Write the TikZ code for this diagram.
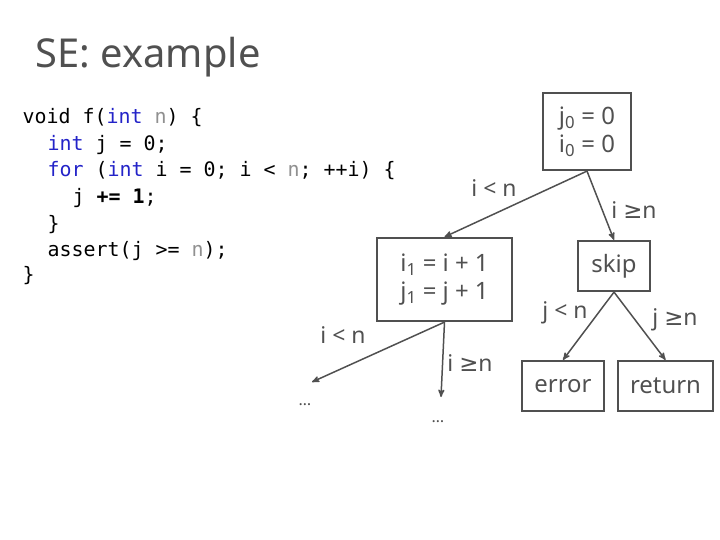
\documentclass[tikz,border=0pt]{standalone}
\usepackage{fontspec}
\setmainfont{Noto Sans}
\setmonofont{DejaVu Sans Mono}
\newfontfamily\symfont{DejaVu Sans}
\usetikzlibrary{arrows,positioning}
\definecolor{ink}{HTML}{505050}
\definecolor{kw}{HTML}{2323C8}
\definecolor{var}{HTML}{909090}
\newcommand{\geqsym}{{\symfont ≥}}

\begin{document}
\begin{tikzpicture}[x=1bp,y=-1bp,>=stealth',line width=1.5pt,color=ink]
\tikzstyle{block} = [draw, line width=2.2pt, shape=rectangle, align=center, inner sep=0pt, font=\fontsize{24}{28}\selectfont]
\tikzstyle{cond} = [font=\fontsize{23}{28}\selectfont]
\tikzstyle{code} = [anchor=west, inner sep=0pt, text=black, font=\ttfamily\fontsize{20}{24}\selectfont]
\useasboundingbox (0,0) rectangle (720,540);

% Title
\node[anchor=base west, inner sep=0pt, font=\fontsize{40}{46}\selectfont] (title) at (35,68) {SE: example};

% Source
\node[code] (line1) at (22,118) {void f(\textcolor{kw}{int} \textcolor{var}{n}) \{};
\node[code] (line2) at (47,145) {\textcolor{kw}{int} j = 0;};
\node[code] (line3) at (47,171) {\textcolor{kw}{for} (\textcolor{kw}{int} i = 0; i < \textcolor{var}{n}; ++i) \{};
\node[code] (line4) at (72,198) {j \textbf{+= 1};};
\node[code] (line5) at (47,225) {\}};
\node[code] (line6) at (47,251) {assert(j >= \textcolor{var}{n});};
\node[code] (line7) at (22,276) {\}};

% Tree
\node[block, minimum width=88bp, minimum height=77bp] (init) at (587,131.5) {j\textsubscript{0} = 0\\i\textsubscript{0} = 0};
\node[block, minimum width=135bp, minimum height=83bp] (upd) at (444.5,279.5) {i\textsubscript{1} = i + 1\\j\textsubscript{1} = j + 1};
\node[block, minimum width=72bp, minimum height=50bp] (skip) at (614,266) {skip};
\node[block, minimum width=82bp, minimum height=50bp] (err) at (563,386) {error};
\node[block, minimum width=95bp, minimum height=50bp, right of=err, node distance=102.5bp] (ret) {return};

% Loose ends
\node[font=\fontsize{16}{18}\selectfont] (dotsL) at (305,405) {\dots};
\node[font=\fontsize{16}{18}\selectfont] (dotsR) at (438,422) {\dots};
\coordinate (endL) at (312,382);
\coordinate (endR) at (441,397);

% Edges
\draw[->] (init.south) -- (upd.north);
\draw[->] (init.south) -- (skip.north);
\draw[->] (upd.south) -- (endL);
\draw[->] (upd.south) -- (endR);
\draw[->] (skip.south) -- (err.north);
\draw[->] (skip.south) -- (ret.north);

% Edge labels
\node[cond] (c1) at (494,188) {i < n};
\node[cond] (c2) at (634,210) {i \geqsym n};
\node[cond] (c3) at (343,335) {i < n};
\node[cond] (c4) at (470,363) {i \geqsym n};
\node[cond] (c5) at (565,313) {j < n};
\node[cond] (c6) at (675,320) {j \geqsym n};

\end{tikzpicture}
\end{document}
